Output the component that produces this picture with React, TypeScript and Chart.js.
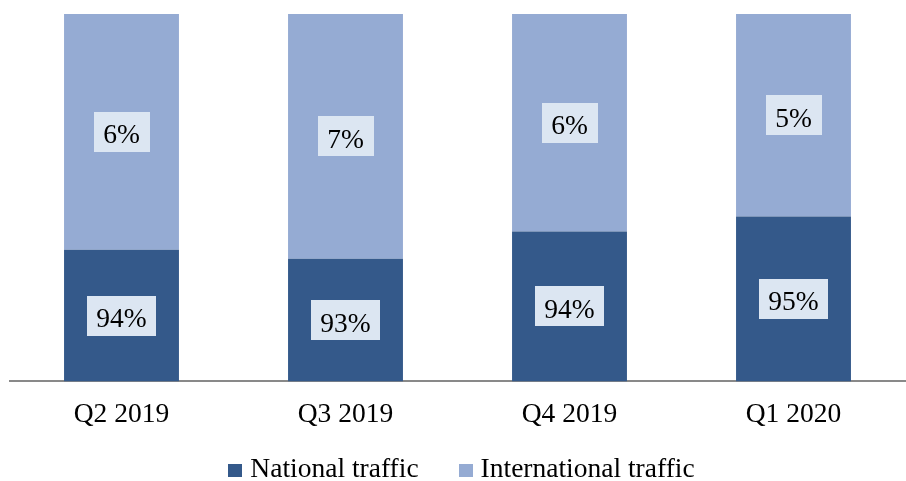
import React, { useEffect, useRef } from "react";
import { Chart, registerables } from "chart.js";

Chart.register(...registerables);

const categories = ["Q2 2019", "Q3 2019", "Q4 2019", "Q1 2020"];
const nationalValues = [35.8, 33.4, 40.8, 44.9];
const internationalValues = [64.2, 66.6, 59.2, 55.1];
const nationalLabels = ["94%", "93%", "94%", "95%"];
const internationalLabels = ["6%", "7%", "6%", "5%"];
const seriesNames = ["National traffic", "International traffic"];

const FONT = "'Liberation Serif', 'Times New Roman', serif";
const FS = 27.5;

const labelPlugin = {
  id: "segLabels",
  afterDatasetsDraw(chart: any) {
    const ctx = chart.ctx;
    const texts = [nationalLabels, internationalLabels];
    ctx.save();
    ctx.font = `${FS}px ${FONT}`;
    chart.data.datasets.forEach((_ds: any, di: number) => {
      const meta = chart.getDatasetMeta(di);
      meta.data.forEach((el: any, i: number) => {
        const p = el.getProps(["x", "y", "base"], true);
        const cy = (p.y + p.base) / 2;
        const t = texts[di][i];
        const w = ctx.measureText(t).width + 19;
        const h = 40;
        ctx.fillStyle = "#dce6f2";
        ctx.fillRect(Math.round(p.x - w / 2), Math.round(cy - h / 2), Math.round(w), h);
        ctx.fillStyle = "#000000";
        ctx.textAlign = "center";
        ctx.textBaseline = "alphabetic";
        ctx.fillText(t, p.x, cy + 11.5);
      });
    });
    ctx.restore();
  },
};

const legendPlugin = {
  id: "customLegend",
  afterDraw(chart: any) {
    const ctx = chart.ctx;
    ctx.save();
    ctx.font = `${FS}px ${FONT}`;
    const ds = chart.data.datasets;
    const boxW = 14;
    const boxH = 13;
    const gapText = 8;
    const gapItem = 40;
    const widths = ds.map((d: any) => boxW + gapText + ctx.measureText(d.label).width);
    const total = widths.reduce((a: number, b: number) => a + b, 0) + gapItem * (ds.length - 1);
    const ca = chart.chartArea;
    let x = (ca.left + ca.right) / 2 + 4 - total / 2;
    const baseY = 477;
    ds.forEach((d: any, i: number) => {
      ctx.fillStyle = d.backgroundColor;
      ctx.fillRect(Math.round(x), baseY - boxH, boxW, boxH);
      ctx.fillStyle = "#000000";
      ctx.textAlign = "left";
      ctx.textBaseline = "alphabetic";
      ctx.fillText(d.label, x + boxW + gapText, baseY);
      x += widths[i] + gapItem;
    });
    ctx.restore();
  },
};

export default function App() {
  const ref = useRef<HTMLCanvasElement | null>(null);
  useEffect(() => {
    if (!ref.current) return;
    const chart = new Chart(ref.current, {
      type: "bar",
      data: {
        labels: categories,
        datasets: [
          {
            label: seriesNames[0],
            data: nationalValues,
            backgroundColor: "#34598a",
            borderWidth: 0,
            barPercentage: 0.513,
            categoryPercentage: 1,
          },
          {
            label: seriesNames[1],
            data: internationalValues,
            backgroundColor: "#95abd3",
            borderWidth: 0,
            barPercentage: 0.513,
            categoryPercentage: 1,
          },
        ],
      },
      options: {
        responsive: false,
        devicePixelRatio: 1,
        animation: false,
        layout: { padding: { left: 9.5, right: 0.5, top: 14, bottom: 40.6 } },
        plugins: {
          legend: { display: false },
          tooltip: { enabled: false },
        },
        scales: {
          x: {
            stacked: true,
            grid: { display: false },
            border: { display: true, color: "#898989", width: 2 },
            ticks: {
              color: "#000000",
              padding: 9,
              font: { family: FONT, size: FS },
            },
          },
          y: {
            stacked: true,
            display: false,
            min: 0,
            max: 100,
          },
        },
      },
      plugins: [labelPlugin, legendPlugin],
    });
    return () => chart.destroy();
  }, []);
  return (
    <div style={{ position: "absolute", left: 0, top: 0, width: 906, height: 481, background: "#ffffff" }}>
      <canvas ref={ref} width={906} height={481} style={{ width: 906, height: 481, display: "block" }} />
    </div>
  );
}
